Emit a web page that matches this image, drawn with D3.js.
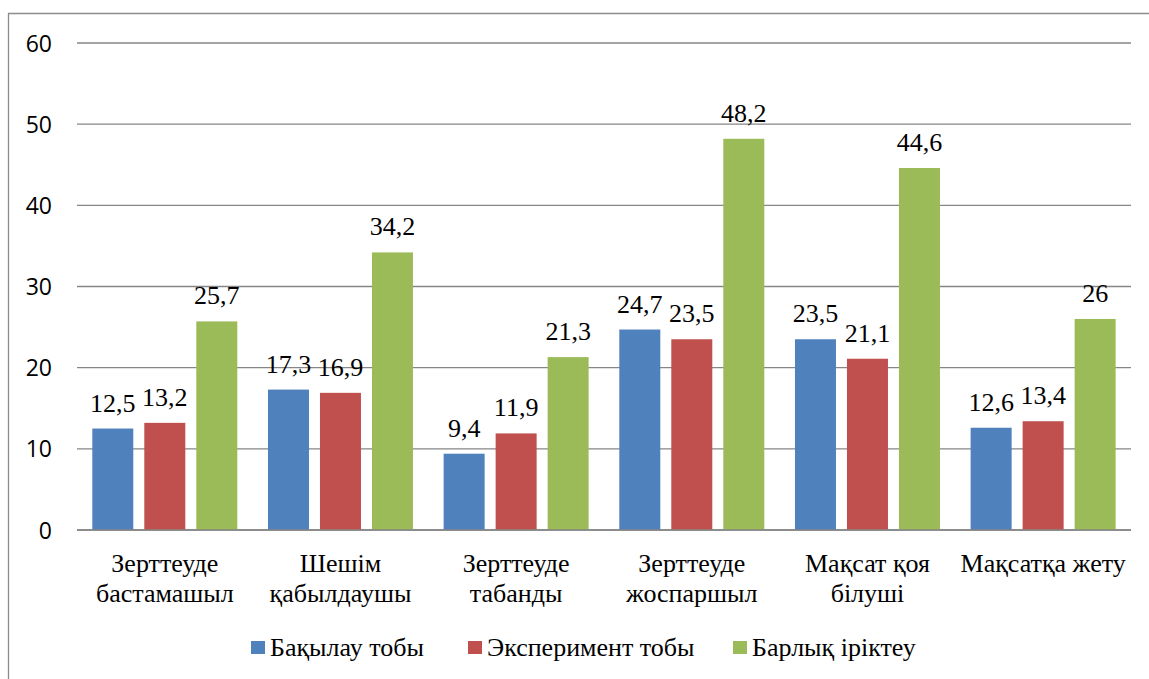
<!DOCTYPE html>
<html>
<head>
<meta charset="utf-8">
<script src="https://cdn.jsdelivr.net/npm/d3@7"></script>
</head>
<body style="margin:0">
<div id="chart"></div>
<script>
// data ---------------------------------------------------------------------
const categories = [
  ['Зерттеуде', 'бастамашыл'],
  ['Шешім', 'қабылдаушы'],
  ['Зерттеуде', 'табанды'],
  ['Зерттеуде', 'жоспаршыл'],
  ['Мақсат қоя', 'білуші'],
  ['Мақсатқа жету']
];
const seriesNames = ['Бақылау тобы', 'Эксперимент тобы', 'Барлық іріктеу'];
const control = [12.5, 17.3, 9.4, 24.7, 23.5, 12.6];
const experiment = [13.2, 16.9, 11.9, 23.5, 21.1, 13.4];
const total = [25.7, 34.2, 21.3, 48.2, 44.6, 26];
const yTicks = [0, 10, 20, 30, 40, 50, 60];
const colors = ['#4F81BD', '#C0504D', '#9BBB59'];

// size ---------------------------------------------------------------------
const width = 1149;
const height = 679;
const plot = { left: 77, right: 1131, top: 43, bottom: 530 };
const serif = "'Liberation Serif'";
const sans = "'Open Sans'";

const svg = d3.select('#chart').append('svg')
  .attr('width', width)
  .attr('height', height)
  .style('display', 'block');

// frame
svg.append('path')
  .attr('d', `M8.5,${height}V13.5H${width}`)
  .attr('fill', 'none')
  .attr('stroke', '#8c8c8c')
  .attr('stroke-width', 1.3);

// scales -------------------------------------------------------------------
const x0 = d3.scaleBand()
  .domain(d3.range(categories.length))
  .range([plot.left, plot.right])
  .padding(0);
const x1 = d3.scaleBand()
  .domain(d3.range(seriesNames.length))
  .range([15.3, 160.3])
  .paddingInner(11 / 52)
  .paddingOuter(0);
const y = d3.scaleLinear()
  .domain([0, 60])
  .range([plot.bottom, plot.top]);

// grid + y axis ------------------------------------------------------------
const grid = svg.append('g');
grid.selectAll('line')
  .data(yTicks)
  .enter()
  .append('line')
  .attr('x1', plot.left)
  .attr('x2', plot.right)
  .attr('y1', d => y(d))
  .attr('y2', d => y(d))
  .attr('stroke', '#868686')
  .attr('stroke-width', 1.4);
grid.selectAll('text')
  .data(yTicks)
  .enter()
  .append('text')
  .attr('x', 52)
  .attr('y', d => y(d) + 8.5)
  .attr('text-anchor', 'end')
  .style('font-family', sans)
  .style('font-size', '23px')
  .text(d => d);

// bars ---------------------------------------------------------------------
const seriesData = [control, experiment, total];
const cells = [];
categories.forEach((c, i) => seriesData.forEach((s, k) => cells.push({ i, k, v: s[i] })));

svg.append('g')
  .selectAll('rect')
  .data(cells)
  .enter()
  .append('rect')
  .attr('x', d => x0(d.i) + x1(d.k))
  .attr('y', d => y(d.v))
  .attr('width', x1.bandwidth())
  .attr('height', d => y(0) - y(d.v))
  .attr('fill', d => colors[d.k]);

// data labels
svg.selectAll('text.val')
  .data(cells)
  .enter()
  .append('text')
  .attr('class', 'val')
  .attr('x', d => x0(d.i) + x1(d.k) + x1.bandwidth() / 2)
  .attr('y', d => y(d.v) - 17)
  .attr('text-anchor', 'middle')
  .style('font-family', serif)
  .style('font-size', '26px')
  .text(d => String(d.v).replace('.', ','));

// zero line on top of bars
svg.append('line')
  .attr('x1', plot.left).attr('x2', plot.right)
  .attr('y1', y(0)).attr('y2', y(0))
  .attr('stroke', '#868686')
  .attr('stroke-width', 1.4);

// category labels ----------------------------------------------------------
const catLines = [];
categories.forEach((c, i) => c.forEach((t, j) => catLines.push({ i, j, t })));
svg.selectAll('text.cat')
  .data(catLines)
  .enter()
  .append('text')
  .attr('class', 'cat')
  .attr('x', d => x0(d.i) + x0.bandwidth() / 2)
  .attr('y', d => 572 + d.j * 30)
  .attr('text-anchor', 'middle')
  .style('font-family', serif)
  .style('font-size', '26px')
  .text(d => d.t);

// legend -------------------------------------------------------------------
const legendX = [251, 468, 733];
svg.selectAll('rect.leg')
  .data(seriesNames)
  .enter()
  .append('rect')
  .attr('class', 'leg')
  .attr('x', (d, i) => legendX[i])
  .attr('y', 641)
  .attr('width', 14)
  .attr('height', 13)
  .attr('fill', (d, i) => colors[i]);
svg.selectAll('text.leg')
  .data(seriesNames)
  .enter()
  .append('text')
  .attr('class', 'leg')
  .attr('x', (d, i) => legendX[i] + 19)
  .attr('y', 656)
  .style('font-family', serif)
  .style('font-size', '26px')
  .text(d => d);
</script>
</body>
</html>
